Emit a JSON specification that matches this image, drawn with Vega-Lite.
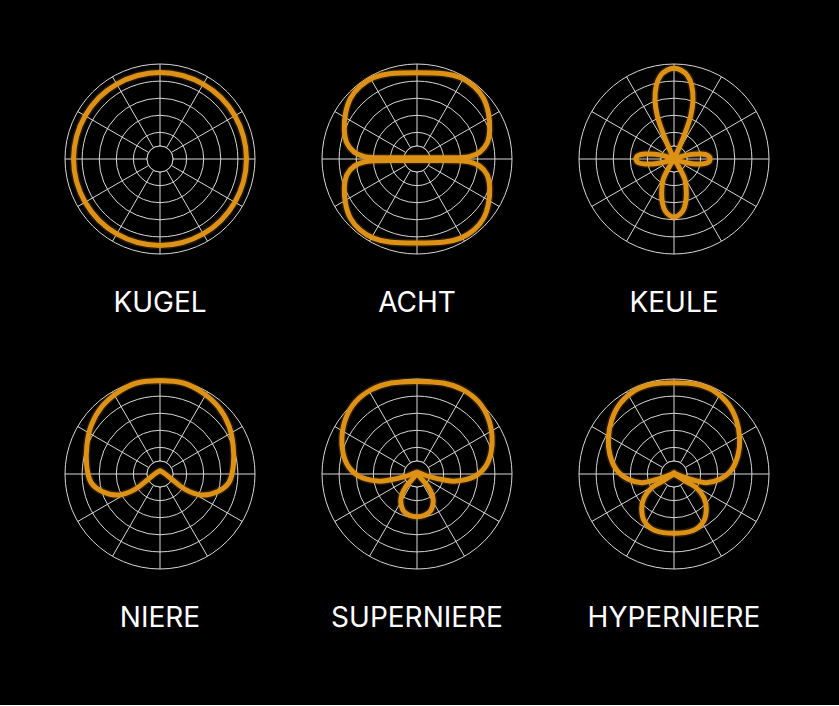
{
"$schema": "https://vega.github.io/schema/vega-lite/v6.json",
"background": "#000000",
"padding": {"left": 50, "top": 49, "right": 56, "bottom": 72},
"data": {"values": [
{"k":"s","n":["KUGEL","ACHT","KEULE","NIERE","SUPERNIERE","HYPERNIERE"],"x":0,"y":1,"x2":0,"y2":-1},
{"k":"s","n":["KUGEL","ACHT","KEULE","NIERE","SUPERNIERE","HYPERNIERE"],"x":0.5,"y":0.866,"x2":-0.5,"y2":-0.866},
{"k":"s","n":["KUGEL","ACHT","KEULE","NIERE","SUPERNIERE","HYPERNIERE"],"x":0.866,"y":0.5,"x2":-0.866,"y2":-0.5},
{"k":"s","n":["KUGEL","ACHT","KEULE","NIERE","SUPERNIERE","HYPERNIERE"],"x":1,"y":0,"x2":-1,"y2":0},
{"k":"s","n":["KUGEL","ACHT","KEULE","NIERE","SUPERNIERE","HYPERNIERE"],"x":0.866,"y":-0.5,"x2":-0.866,"y2":0.5},
{"k":"s","n":["KUGEL","ACHT","KEULE","NIERE","SUPERNIERE","HYPERNIERE"],"x":0.5,"y":-0.866,"x2":-0.5,"y2":0.866},
{"k":"r","n":["KUGEL","ACHT","KEULE","NIERE","SUPERNIERE","HYPERNIERE"],"x":0,"y":0,"r":1},
{"k":"r","n":["KUGEL","ACHT","KEULE","NIERE","SUPERNIERE","HYPERNIERE"],"x":0,"y":0,"r":0.82},
{"k":"r","n":["KUGEL","ACHT","KEULE","NIERE","SUPERNIERE","HYPERNIERE"],"x":0,"y":0,"r":0.64},
{"k":"r","n":["KUGEL","ACHT","KEULE","NIERE","SUPERNIERE","HYPERNIERE"],"x":0,"y":0,"r":0.46},
{"k":"r","n":["KUGEL","ACHT","KEULE","NIERE","SUPERNIERE","HYPERNIERE"],"x":0,"y":0,"r":0.28},
{"k":"r","n":["KUGEL","ACHT","KEULE","NIERE","SUPERNIERE","HYPERNIERE"],"x":0,"y":0,"r":0.137},

{"k":"c","n":["KUGEL"],"p":"a","i":0,"x":0,"y":0.91},
{"k":"c","n":["KUGEL"],"p":"a","i":1,"x":0.236,"y":0.879},
{"k":"c","n":["KUGEL"],"p":"a","i":2,"x":0.455,"y":0.788},
{"k":"c","n":["KUGEL"],"p":"a","i":3,"x":0.644,"y":0.644},
{"k":"c","n":["KUGEL"],"p":"a","i":4,"x":0.788,"y":0.455},
{"k":"c","n":["KUGEL"],"p":"a","i":5,"x":0.879,"y":0.236},
{"k":"c","n":["KUGEL"],"p":"a","i":6,"x":0.91,"y":0},
{"k":"c","n":["KUGEL"],"p":"a","i":7,"x":0.879,"y":-0.236},
{"k":"c","n":["KUGEL"],"p":"a","i":8,"x":0.788,"y":-0.455},
{"k":"c","n":["KUGEL"],"p":"a","i":9,"x":0.644,"y":-0.644},
{"k":"c","n":["KUGEL"],"p":"a","i":10,"x":0.455,"y":-0.788},
{"k":"c","n":["KUGEL"],"p":"a","i":11,"x":0.236,"y":-0.879},
{"k":"c","n":["KUGEL"],"p":"a","i":12,"x":0,"y":-0.91},
{"k":"c","n":["KUGEL"],"p":"a","i":13,"x":-0.236,"y":-0.879},
{"k":"c","n":["KUGEL"],"p":"a","i":14,"x":-0.455,"y":-0.788},
{"k":"c","n":["KUGEL"],"p":"a","i":15,"x":-0.644,"y":-0.644},
{"k":"c","n":["KUGEL"],"p":"a","i":16,"x":-0.788,"y":-0.455},
{"k":"c","n":["KUGEL"],"p":"a","i":17,"x":-0.879,"y":-0.236},
{"k":"c","n":["KUGEL"],"p":"a","i":18,"x":-0.91,"y":0},
{"k":"c","n":["KUGEL"],"p":"a","i":19,"x":-0.879,"y":0.236},
{"k":"c","n":["KUGEL"],"p":"a","i":20,"x":-0.788,"y":0.455},
{"k":"c","n":["KUGEL"],"p":"a","i":21,"x":-0.644,"y":0.644},
{"k":"c","n":["KUGEL"],"p":"a","i":22,"x":-0.455,"y":0.788},
{"k":"c","n":["KUGEL"],"p":"a","i":23,"x":-0.236,"y":0.879},

{"k":"c","n":["ACHT"],"p":"a","i":0,"x":0,"y":0.909},
{"k":"c","n":["ACHT"],"p":"a","i":1,"x":0.29,"y":0.898},
{"k":"c","n":["ACHT"],"p":"a","i":2,"x":0.46,"y":0.855},
{"k":"c","n":["ACHT"],"p":"a","i":3,"x":0.6,"y":0.765},
{"k":"c","n":["ACHT"],"p":"a","i":4,"x":0.7,"y":0.64},
{"k":"c","n":["ACHT"],"p":"a","i":5,"x":0.752,"y":0.481},
{"k":"c","n":["ACHT"],"p":"a","i":6,"x":0.765,"y":0.305},
{"k":"c","n":["ACHT"],"p":"a","i":7,"x":0.737,"y":0.165},
{"k":"c","n":["ACHT"],"p":"a","i":8,"x":0.66,"y":0.072},
{"k":"c","n":["ACHT"],"p":"a","i":9,"x":0.554,"y":0.025},
{"k":"c","n":["ACHT"],"p":"a","i":10,"x":0.449,"y":0.014},
{"k":"c","n":["ACHT"],"p":"a","i":11,"x":0.2,"y":0.012},
{"k":"c","n":["ACHT"],"p":"a","i":12,"x":0,"y":0.012},
{"k":"c","n":["ACHT"],"p":"a","i":13,"x":-0.2,"y":0.012},
{"k":"c","n":["ACHT"],"p":"a","i":14,"x":-0.449,"y":0.014},
{"k":"c","n":["ACHT"],"p":"a","i":15,"x":-0.554,"y":0.025},
{"k":"c","n":["ACHT"],"p":"a","i":16,"x":-0.66,"y":0.072},
{"k":"c","n":["ACHT"],"p":"a","i":17,"x":-0.737,"y":0.165},
{"k":"c","n":["ACHT"],"p":"a","i":18,"x":-0.765,"y":0.305},
{"k":"c","n":["ACHT"],"p":"a","i":19,"x":-0.752,"y":0.481},
{"k":"c","n":["ACHT"],"p":"a","i":20,"x":-0.7,"y":0.64},
{"k":"c","n":["ACHT"],"p":"a","i":21,"x":-0.6,"y":0.765},
{"k":"c","n":["ACHT"],"p":"a","i":22,"x":-0.46,"y":0.855},
{"k":"c","n":["ACHT"],"p":"a","i":23,"x":-0.29,"y":0.898},
{"k":"c","n":["ACHT"],"p":"b","i":0,"x":0,"y":-0.885},
{"k":"c","n":["ACHT"],"p":"b","i":1,"x":0.29,"y":-0.874},
{"k":"c","n":["ACHT"],"p":"b","i":2,"x":0.46,"y":-0.833},
{"k":"c","n":["ACHT"],"p":"b","i":3,"x":0.6,"y":-0.746},
{"k":"c","n":["ACHT"],"p":"b","i":4,"x":0.7,"y":-0.625},
{"k":"c","n":["ACHT"],"p":"b","i":5,"x":0.752,"y":-0.47},
{"k":"c","n":["ACHT"],"p":"b","i":6,"x":0.765,"y":-0.3},
{"k":"c","n":["ACHT"],"p":"b","i":7,"x":0.737,"y":-0.165},
{"k":"c","n":["ACHT"],"p":"b","i":8,"x":0.66,"y":-0.075},
{"k":"c","n":["ACHT"],"p":"b","i":9,"x":0.554,"y":-0.03},
{"k":"c","n":["ACHT"],"p":"b","i":10,"x":0.449,"y":-0.018},
{"k":"c","n":["ACHT"],"p":"b","i":11,"x":0.2,"y":-0.016},
{"k":"c","n":["ACHT"],"p":"b","i":12,"x":0,"y":-0.016},
{"k":"c","n":["ACHT"],"p":"b","i":13,"x":-0.2,"y":-0.016},
{"k":"c","n":["ACHT"],"p":"b","i":14,"x":-0.449,"y":-0.018},
{"k":"c","n":["ACHT"],"p":"b","i":15,"x":-0.554,"y":-0.03},
{"k":"c","n":["ACHT"],"p":"b","i":16,"x":-0.66,"y":-0.075},
{"k":"c","n":["ACHT"],"p":"b","i":17,"x":-0.737,"y":-0.165},
{"k":"c","n":["ACHT"],"p":"b","i":18,"x":-0.765,"y":-0.3},
{"k":"c","n":["ACHT"],"p":"b","i":19,"x":-0.752,"y":-0.47},
{"k":"c","n":["ACHT"],"p":"b","i":20,"x":-0.7,"y":-0.625},
{"k":"c","n":["ACHT"],"p":"b","i":21,"x":-0.6,"y":-0.746},
{"k":"c","n":["ACHT"],"p":"b","i":22,"x":-0.46,"y":-0.833},
{"k":"c","n":["ACHT"],"p":"b","i":23,"x":-0.29,"y":-0.874},

{"k":"c","n":["KEULE"],"p":"a","i":0,"x":0,"y":0.955},
{"k":"c","n":["KEULE"],"p":"a","i":1,"x":0.075,"y":0.935},
{"k":"c","n":["KEULE"],"p":"a","i":2,"x":0.14,"y":0.88},
{"k":"c","n":["KEULE"],"p":"a","i":3,"x":0.185,"y":0.78},
{"k":"c","n":["KEULE"],"p":"a","i":4,"x":0.2,"y":0.62},
{"k":"c","n":["KEULE"],"p":"a","i":5,"x":0.175,"y":0.45},
{"k":"c","n":["KEULE"],"p":"a","i":6,"x":0.115,"y":0.27},
{"k":"c","n":["KEULE"],"p":"a","i":7,"x":0.055,"y":0.12},
{"k":"c","n":["KEULE"],"p":"a","i":8,"x":0,"y":0},
{"k":"c","n":["KEULE"],"p":"a","i":9,"x":0,"y":0},
{"k":"c","n":["KEULE"],"p":"a","i":10,"x":-0.055,"y":0.12},
{"k":"c","n":["KEULE"],"p":"a","i":11,"x":-0.115,"y":0.27},
{"k":"c","n":["KEULE"],"p":"a","i":12,"x":-0.175,"y":0.45},
{"k":"c","n":["KEULE"],"p":"a","i":13,"x":-0.2,"y":0.62},
{"k":"c","n":["KEULE"],"p":"a","i":14,"x":-0.185,"y":0.78},
{"k":"c","n":["KEULE"],"p":"a","i":15,"x":-0.14,"y":0.88},
{"k":"c","n":["KEULE"],"p":"a","i":16,"x":-0.075,"y":0.935},
{"k":"c","n":["KEULE"],"p":"b","i":0,"x":0.38,"y":0},
{"k":"c","n":["KEULE"],"p":"b","i":1,"x":0.355,"y":-0.038},
{"k":"c","n":["KEULE"],"p":"b","i":2,"x":0.29,"y":-0.052},
{"k":"c","n":["KEULE"],"p":"b","i":3,"x":0.195,"y":-0.05},
{"k":"c","n":["KEULE"],"p":"b","i":4,"x":0.1,"y":-0.032},
{"k":"c","n":["KEULE"],"p":"b","i":5,"x":0,"y":0},
{"k":"c","n":["KEULE"],"p":"b","i":6,"x":0,"y":0},
{"k":"c","n":["KEULE"],"p":"b","i":7,"x":0.1,"y":0.032},
{"k":"c","n":["KEULE"],"p":"b","i":8,"x":0.195,"y":0.05},
{"k":"c","n":["KEULE"],"p":"b","i":9,"x":0.29,"y":0.052},
{"k":"c","n":["KEULE"],"p":"b","i":10,"x":0.355,"y":0.038},
{"k":"c","n":["KEULE"],"p":"d","i":0,"x":-0.4,"y":0},
{"k":"c","n":["KEULE"],"p":"d","i":1,"x":-0.375,"y":0.038},
{"k":"c","n":["KEULE"],"p":"d","i":2,"x":-0.305,"y":0.052},
{"k":"c","n":["KEULE"],"p":"d","i":3,"x":-0.2,"y":0.05},
{"k":"c","n":["KEULE"],"p":"d","i":4,"x":-0.1,"y":0.032},
{"k":"c","n":["KEULE"],"p":"d","i":5,"x":0,"y":0},
{"k":"c","n":["KEULE"],"p":"d","i":6,"x":0,"y":0},
{"k":"c","n":["KEULE"],"p":"d","i":7,"x":-0.1,"y":-0.032},
{"k":"c","n":["KEULE"],"p":"d","i":8,"x":-0.2,"y":-0.05},
{"k":"c","n":["KEULE"],"p":"d","i":9,"x":-0.305,"y":-0.052},
{"k":"c","n":["KEULE"],"p":"d","i":10,"x":-0.375,"y":-0.038},
{"k":"c","n":["KEULE"],"p":"c","i":0,"x":0,"y":-0.61},
{"k":"c","n":["KEULE"],"p":"c","i":1,"x":-0.045,"y":-0.595},
{"k":"c","n":["KEULE"],"p":"c","i":2,"x":-0.09,"y":-0.55},
{"k":"c","n":["KEULE"],"p":"c","i":3,"x":-0.12,"y":-0.47},
{"k":"c","n":["KEULE"],"p":"c","i":4,"x":-0.13,"y":-0.36},
{"k":"c","n":["KEULE"],"p":"c","i":5,"x":-0.115,"y":-0.22},
{"k":"c","n":["KEULE"],"p":"c","i":6,"x":-0.06,"y":-0.1},
{"k":"c","n":["KEULE"],"p":"c","i":7,"x":0,"y":0},
{"k":"c","n":["KEULE"],"p":"c","i":8,"x":0,"y":0},
{"k":"c","n":["KEULE"],"p":"c","i":9,"x":0.06,"y":-0.1},
{"k":"c","n":["KEULE"],"p":"c","i":10,"x":0.115,"y":-0.22},
{"k":"c","n":["KEULE"],"p":"c","i":11,"x":0.13,"y":-0.36},
{"k":"c","n":["KEULE"],"p":"c","i":12,"x":0.12,"y":-0.47},
{"k":"c","n":["KEULE"],"p":"c","i":13,"x":0.09,"y":-0.55},
{"k":"c","n":["KEULE"],"p":"c","i":14,"x":0.045,"y":-0.595},

{"k":"c","n":["NIERE"],"p":"a","i":0,"x":0,"y":0.982},
{"k":"c","n":["NIERE"],"p":"a","i":1,"x":0.245,"y":0.958},
{"k":"c","n":["NIERE"],"p":"a","i":2,"x":0.445,"y":0.858},
{"k":"c","n":["NIERE"],"p":"a","i":3,"x":0.615,"y":0.705},
{"k":"c","n":["NIERE"],"p":"a","i":4,"x":0.725,"y":0.509},
{"k":"c","n":["NIERE"],"p":"a","i":5,"x":0.77,"y":0.298},
{"k":"c","n":["NIERE"],"p":"a","i":6,"x":0.772,"y":0.088},
{"k":"c","n":["NIERE"],"p":"a","i":7,"x":0.726,"y":-0.088},
{"k":"c","n":["NIERE"],"p":"a","i":8,"x":0.604,"y":-0.186},
{"k":"c","n":["NIERE"],"p":"a","i":9,"x":0.428,"y":-0.221},
{"k":"c","n":["NIERE"],"p":"a","i":10,"x":0.27,"y":-0.165},
{"k":"c","n":["NIERE"],"p":"a","i":11,"x":0.13,"y":-0.06},
{"k":"c","n":["NIERE"],"p":"a","i":12,"x":0.042,"y":0.011},
{"k":"c","n":["NIERE"],"p":"a","i":13,"x":0,"y":0.032},
{"k":"c","n":["NIERE"],"p":"a","i":14,"x":0,"y":0.032},
{"k":"c","n":["NIERE"],"p":"a","i":15,"x":-0.042,"y":0.011},
{"k":"c","n":["NIERE"],"p":"a","i":16,"x":-0.13,"y":-0.06},
{"k":"c","n":["NIERE"],"p":"a","i":17,"x":-0.27,"y":-0.165},
{"k":"c","n":["NIERE"],"p":"a","i":18,"x":-0.428,"y":-0.221},
{"k":"c","n":["NIERE"],"p":"a","i":19,"x":-0.604,"y":-0.186},
{"k":"c","n":["NIERE"],"p":"a","i":20,"x":-0.726,"y":-0.088},
{"k":"c","n":["NIERE"],"p":"a","i":21,"x":-0.772,"y":0.088},
{"k":"c","n":["NIERE"],"p":"a","i":22,"x":-0.77,"y":0.298},
{"k":"c","n":["NIERE"],"p":"a","i":23,"x":-0.725,"y":0.509},
{"k":"c","n":["NIERE"],"p":"a","i":24,"x":-0.615,"y":0.705},
{"k":"c","n":["NIERE"],"p":"a","i":25,"x":-0.445,"y":0.858},
{"k":"c","n":["NIERE"],"p":"a","i":26,"x":-0.245,"y":0.958},

{"k":"c","n":["SUPERNIERE"],"p":"a","i":0,"x":0,"y":0.975},
{"k":"c","n":["SUPERNIERE"],"p":"a","i":1,"x":0.274,"y":0.958},
{"k":"c","n":["SUPERNIERE"],"p":"a","i":2,"x":0.484,"y":0.886},
{"k":"c","n":["SUPERNIERE"],"p":"a","i":3,"x":0.65,"y":0.757},
{"k":"c","n":["SUPERNIERE"],"p":"a","i":4,"x":0.75,"y":0.586},
{"k":"c","n":["SUPERNIERE"],"p":"a","i":5,"x":0.79,"y":0.393},
{"k":"c","n":["SUPERNIERE"],"p":"a","i":6,"x":0.778,"y":0.218},
{"k":"c","n":["SUPERNIERE"],"p":"a","i":7,"x":0.72,"y":0.077},
{"k":"c","n":["SUPERNIERE"],"p":"a","i":8,"x":0.6,"y":-0.028},
{"k":"c","n":["SUPERNIERE"],"p":"a","i":9,"x":0.414,"y":-0.074},
{"k":"c","n":["SUPERNIERE"],"p":"a","i":10,"x":0.291,"y":-0.063},
{"k":"c","n":["SUPERNIERE"],"p":"a","i":11,"x":0.133,"y":-0.028},
{"k":"c","n":["SUPERNIERE"],"p":"a","i":12,"x":0.035,"y":0.007},
{"k":"c","n":["SUPERNIERE"],"p":"a","i":13,"x":0,"y":0.018},
{"k":"c","n":["SUPERNIERE"],"p":"a","i":14,"x":0,"y":0.018},
{"k":"c","n":["SUPERNIERE"],"p":"a","i":15,"x":-0.035,"y":0.007},
{"k":"c","n":["SUPERNIERE"],"p":"a","i":16,"x":-0.133,"y":-0.028},
{"k":"c","n":["SUPERNIERE"],"p":"a","i":17,"x":-0.291,"y":-0.063},
{"k":"c","n":["SUPERNIERE"],"p":"a","i":18,"x":-0.414,"y":-0.074},
{"k":"c","n":["SUPERNIERE"],"p":"a","i":19,"x":-0.6,"y":-0.028},
{"k":"c","n":["SUPERNIERE"],"p":"a","i":20,"x":-0.72,"y":0.077},
{"k":"c","n":["SUPERNIERE"],"p":"a","i":21,"x":-0.778,"y":0.218},
{"k":"c","n":["SUPERNIERE"],"p":"a","i":22,"x":-0.79,"y":0.393},
{"k":"c","n":["SUPERNIERE"],"p":"a","i":23,"x":-0.75,"y":0.586},
{"k":"c","n":["SUPERNIERE"],"p":"a","i":24,"x":-0.65,"y":0.757},
{"k":"c","n":["SUPERNIERE"],"p":"a","i":25,"x":-0.484,"y":0.886},
{"k":"c","n":["SUPERNIERE"],"p":"a","i":26,"x":-0.274,"y":0.958},
{"k":"c","n":["SUPERNIERE"],"p":"b","i":0,"x":0,"y":-0.45},
{"k":"c","n":["SUPERNIERE"],"p":"b","i":1,"x":-0.08,"y":-0.435},
{"k":"c","n":["SUPERNIERE"],"p":"b","i":2,"x":-0.145,"y":-0.385},
{"k":"c","n":["SUPERNIERE"],"p":"b","i":3,"x":-0.17,"y":-0.3},
{"k":"c","n":["SUPERNIERE"],"p":"b","i":4,"x":-0.16,"y":-0.22},
{"k":"c","n":["SUPERNIERE"],"p":"b","i":5,"x":-0.115,"y":-0.13},
{"k":"c","n":["SUPERNIERE"],"p":"b","i":6,"x":-0.05,"y":-0.055},
{"k":"c","n":["SUPERNIERE"],"p":"b","i":7,"x":0,"y":0.005},
{"k":"c","n":["SUPERNIERE"],"p":"b","i":8,"x":0,"y":0.005},
{"k":"c","n":["SUPERNIERE"],"p":"b","i":9,"x":0.05,"y":-0.055},
{"k":"c","n":["SUPERNIERE"],"p":"b","i":10,"x":0.115,"y":-0.13},
{"k":"c","n":["SUPERNIERE"],"p":"b","i":11,"x":0.16,"y":-0.22},
{"k":"c","n":["SUPERNIERE"],"p":"b","i":12,"x":0.17,"y":-0.3},
{"k":"c","n":["SUPERNIERE"],"p":"b","i":13,"x":0.145,"y":-0.385},
{"k":"c","n":["SUPERNIERE"],"p":"b","i":14,"x":0.08,"y":-0.435},

{"k":"c","n":["HYPERNIERE"],"p":"a","i":0,"x":0,"y":0.961},
{"k":"c","n":["HYPERNIERE"],"p":"a","i":1,"x":0.235,"y":0.945},
{"k":"c","n":["HYPERNIERE"],"p":"a","i":2,"x":0.411,"y":0.88},
{"k":"c","n":["HYPERNIERE"],"p":"a","i":3,"x":0.565,"y":0.744},
{"k":"c","n":["HYPERNIERE"],"p":"a","i":4,"x":0.656,"y":0.568},
{"k":"c","n":["HYPERNIERE"],"p":"a","i":5,"x":0.691,"y":0.375},
{"k":"c","n":["HYPERNIERE"],"p":"a","i":6,"x":0.674,"y":0.2},
{"k":"c","n":["HYPERNIERE"],"p":"a","i":7,"x":0.604,"y":0.042},
{"k":"c","n":["HYPERNIERE"],"p":"a","i":8,"x":0.481,"y":-0.056},
{"k":"c","n":["HYPERNIERE"],"p":"a","i":9,"x":0.34,"y":-0.091},
{"k":"c","n":["HYPERNIERE"],"p":"a","i":10,"x":0.2,"y":-0.063},
{"k":"c","n":["HYPERNIERE"],"p":"a","i":11,"x":0.077,"y":-0.021},
{"k":"c","n":["HYPERNIERE"],"p":"a","i":12,"x":0,"y":0.007},
{"k":"c","n":["HYPERNIERE"],"p":"a","i":13,"x":0,"y":0.007},
{"k":"c","n":["HYPERNIERE"],"p":"a","i":14,"x":-0.077,"y":-0.021},
{"k":"c","n":["HYPERNIERE"],"p":"a","i":15,"x":-0.2,"y":-0.063},
{"k":"c","n":["HYPERNIERE"],"p":"a","i":16,"x":-0.34,"y":-0.091},
{"k":"c","n":["HYPERNIERE"],"p":"a","i":17,"x":-0.481,"y":-0.056},
{"k":"c","n":["HYPERNIERE"],"p":"a","i":18,"x":-0.604,"y":0.042},
{"k":"c","n":["HYPERNIERE"],"p":"a","i":19,"x":-0.674,"y":0.2},
{"k":"c","n":["HYPERNIERE"],"p":"a","i":20,"x":-0.691,"y":0.375},
{"k":"c","n":["HYPERNIERE"],"p":"a","i":21,"x":-0.656,"y":0.568},
{"k":"c","n":["HYPERNIERE"],"p":"a","i":22,"x":-0.565,"y":0.744},
{"k":"c","n":["HYPERNIERE"],"p":"a","i":23,"x":-0.411,"y":0.88},
{"k":"c","n":["HYPERNIERE"],"p":"a","i":24,"x":-0.235,"y":0.945},
{"k":"c","n":["HYPERNIERE"],"p":"b","i":0,"x":0,"y":-0.625},
{"k":"c","n":["HYPERNIERE"],"p":"b","i":1,"x":-0.2,"y":-0.595},
{"k":"c","n":["HYPERNIERE"],"p":"b","i":2,"x":-0.31,"y":-0.5},
{"k":"c","n":["HYPERNIERE"],"p":"b","i":3,"x":-0.34,"y":-0.37},
{"k":"c","n":["HYPERNIERE"],"p":"b","i":4,"x":-0.315,"y":-0.25},
{"k":"c","n":["HYPERNIERE"],"p":"b","i":5,"x":-0.24,"y":-0.15},
{"k":"c","n":["HYPERNIERE"],"p":"b","i":6,"x":-0.12,"y":-0.075},
{"k":"c","n":["HYPERNIERE"],"p":"b","i":7,"x":0,"y":0},
{"k":"c","n":["HYPERNIERE"],"p":"b","i":8,"x":0,"y":0},
{"k":"c","n":["HYPERNIERE"],"p":"b","i":9,"x":0.12,"y":-0.075},
{"k":"c","n":["HYPERNIERE"],"p":"b","i":10,"x":0.24,"y":-0.15},
{"k":"c","n":["HYPERNIERE"],"p":"b","i":11,"x":0.315,"y":-0.25},
{"k":"c","n":["HYPERNIERE"],"p":"b","i":12,"x":0.34,"y":-0.37},
{"k":"c","n":["HYPERNIERE"],"p":"b","i":13,"x":0.31,"y":-0.5},
{"k":"c","n":["HYPERNIERE"],"p":"b","i":14,"x":0.2,"y":-0.595}
]},
"transform": [{"flatten": ["n"]}],
"facet": {
  "field": "n", "type": "nominal",
  "sort": ["KUGEL","ACHT","KEULE","NIERE","SUPERNIERE","HYPERNIERE"],
  "header": {"title": null, "labelOrient": "bottom", "labelFont": "Inter", "labelFontSize": 28, "labelFontWeight": 400, "labelColor": "#ffffff", "labelPadding": 21}
},
"columns": 3,
"spacing": {"row": 46, "column": 37},
"spec": {
  "width": 220, "height": 220,
  "layer": [
    {"transform": [{"filter": "datum.k === 's'"}],
     "mark": {"type": "rule", "color": "#d8d8d8", "strokeWidth": 1},
     "encoding": {
       "x": {"field": "x", "type": "quantitative", "scale": {"domain": [-1.158, 1.158], "nice": false, "zero": false}, "axis": null},
       "y": {"field": "y", "type": "quantitative", "scale": {"domain": [-1.158, 1.158], "nice": false, "zero": false}, "axis": null},
       "x2": {"field": "x2"}, "y2": {"field": "y2"}}},
    {"transform": [{"filter": "datum.k === 'r'"}],
     "mark": {"type": "point", "shape": "circle", "filled": false, "color": "#d8d8d8", "strokeWidth": 1, "opacity": 1},
     "encoding": {
       "x": {"field": "x", "type": "quantitative"},
       "y": {"field": "y", "type": "quantitative"},
       "size": {"field": "r", "type": "quantitative", "scale": {"type": "pow", "exponent": 2, "domain": [0, 1], "range": [0, 36100]}, "legend": null}}},
    {"transform": [{"filter": "datum.k === 'r' && datum.r < 0.2"}],
     "mark": {"type": "point", "shape": "circle", "filled": true, "fill": "#000000", "stroke": "#d8d8d8", "strokeWidth": 1, "opacity": 1},
     "encoding": {
       "x": {"field": "x", "type": "quantitative"},
       "y": {"field": "y", "type": "quantitative"},
       "size": {"field": "r", "type": "quantitative", "legend": null}}},
    {"transform": [{"filter": "datum.k === 'c'"}],
     "mark": {"type": "line", "interpolate": "cardinal-closed", "color": "#dd9216", "strokeWidth": 8, "opacity": 0.18, "strokeJoin": "round"},
     "encoding": {
       "x": {"field": "x", "type": "quantitative"},
       "y": {"field": "y", "type": "quantitative"},
       "detail": {"field": "p"},
       "order": {"field": "i", "type": "quantitative"}}},
    {"transform": [{"filter": "datum.k === 'c'"}],
     "mark": {"type": "line", "interpolate": "cardinal-closed", "color": "#dd9216", "strokeWidth": 5, "strokeJoin": "round"},
     "encoding": {
       "x": {"field": "x", "type": "quantitative"},
       "y": {"field": "y", "type": "quantitative"},
       "detail": {"field": "p"},
       "order": {"field": "i", "type": "quantitative"}}}
  ]
},
"config": {"view": {"stroke": null}}
}
